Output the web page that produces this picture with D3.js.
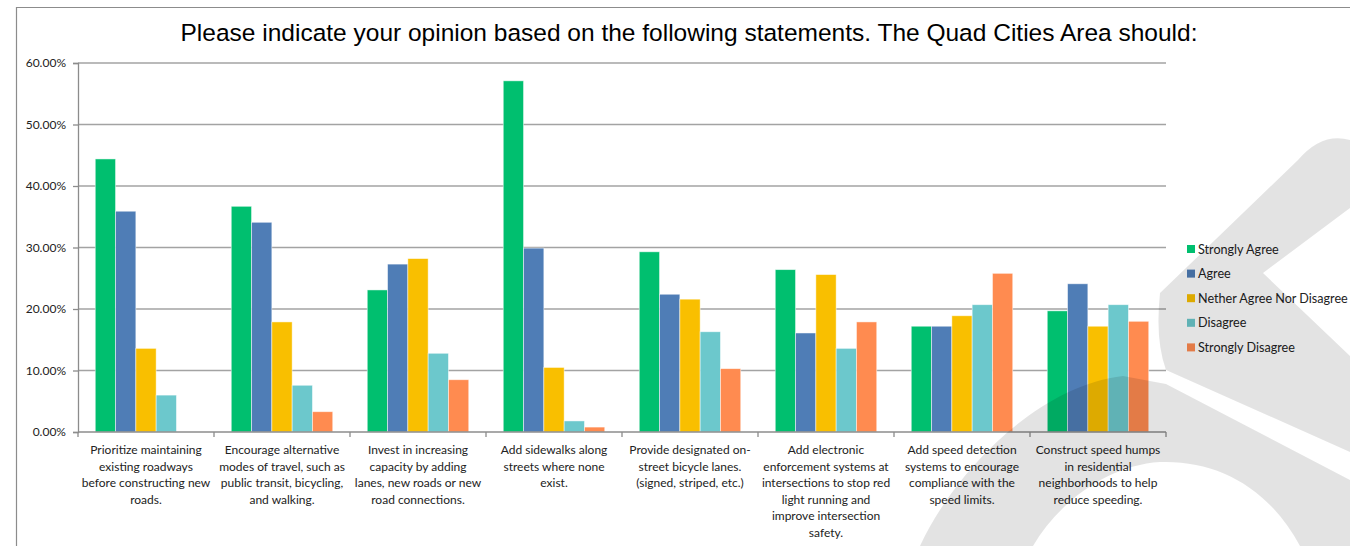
<!DOCTYPE html>
<html>
<head>
<meta charset="utf-8">
<script src="https://cdn.jsdelivr.net/npm/d3@7"></script>
<style>
  body { margin: 0; background: #fff; }
  svg { display: block; }
</style>
</head>
<body>
<div id="chart"></div>
<script>
var width = 1350;
var height = 546;

var titleText = "Please indicate your opinion based on the following statements. The Quad Cities Area should:";

var categories = [
    ["Prioritize maintaining", "existing roadways", "before constructing new", "roads."],
    ["Encourage alternative", "modes of travel, such as", "public transit, bicycling,", "and walking."],
    ["Invest in increasing", "capacity by adding", "lanes, new roads or new", "road connections."],
    ["Add sidewalks along", "streets where none", "exist."],
    ["Provide designated on-", "street bicycle lanes.", "(signed, striped, etc.)"],
    ["Add electronic", "enforcement systems at", "intersections to stop red", "light running and", "improve intersection", "safety."],
    ["Add speed detection", "systems to  encourage", "compliance with the", "speed limits."],
    ["Construct speed humps", "in residential", "neighborhoods to help", "reduce speeding."]
];

var seriesNames = ["Strongly Agree", "Agree", "Nether Agree Nor Disagree", "Disagree", "Strongly Disagree"];
var seriesColors = ["#00BF6F", "#4F7DB6", "#F9BF00", "#6CC8CC", "#FF8B50"];

var stronglyAgree    = [44.4, 36.7, 23.1, 57.1, 29.3, 26.4, 17.2, 19.7];
var agree            = [35.9, 34.1, 27.3, 29.9, 22.4, 16.1, 17.2, 24.1];
var neither          = [13.6, 17.9, 28.2, 10.5, 21.6, 25.6, 18.9, 17.2];
var disagree         = [6.0, 7.6, 12.8, 1.8, 16.3, 13.6, 20.7, 20.7];
var stronglyDisagree = [0, 3.3, 8.5, 0.8, 10.3, 17.9, 25.8, 18.0];

var yTicks = [0, 10, 20, 30, 40, 50, 60];

var seriesValues = [stronglyAgree, agree, neither, disagree, stronglyDisagree];

var canvas = d3.select("#chart")
    .append("svg")
    .attr("width", width)
    .attr("height", height)

canvas.append("rect")
    .attr("width", width)
    .attr("height", height)
    .attr("fill", "white")

// outer frame (top and left edges visible)
canvas.append("path")
    .attr("d", "M16.5,546 L16.5,7.5 L1350,7.5")
    .attr("fill", "none")
    .style("stroke", "#8c8c8c")
    .style("stroke-width", "1.2px")

canvas.append("text")
    .attr("x", 689)
    .attr("y", 41)
    .attr("text-anchor", "middle")
    .style("font-family", "'Liberation Sans', Arial, sans-serif")
    .style("font-size", "24.5px")
    .attr("fill", "#000")
    .text(titleText)

var plotLeft = 78, plotRight = 1166, plotTop = 63, plotBottom = 432;

var keys = d3.range(categories.length);
var xScale = d3.scaleBand().domain(keys).range([plotLeft, plotRight]).padding(0)
var seriesScale = d3.scaleBand().domain(d3.range(seriesNames.length))
    .range([17.25, xScale.bandwidth() - 17.25]).padding(0)
var yScale = d3.scaleLinear().domain([0, 60]).range([plotBottom, plotTop])

// gridlines
canvas.selectAll(".grid")
    .data(yTicks.filter(function(d) { return d > 0; }))
    .enter().append("line")
    .attr("class", "grid")
    .attr("x1", plotLeft)
    .attr("x2", plotRight)
    .attr("y1", function(d) { return yScale(d); })
    .attr("y2", function(d) { return yScale(d); })
    .style("stroke", "#a3a3a3")
    .style("stroke-width", "1.3px")

// y axis
var yAxis = canvas.append("g")
    .attr("class", "yAxis")
    .attr("transform", "translate(" + plotLeft + ",0)")
    .call(d3.axisLeft(yScale).tickValues(yTicks).tickSize(5).tickPadding(7)
        .tickFormat(function(d) { return d.toFixed(2) + "%"; }))

yAxis.select(".domain").style("stroke", "#8c8c8c").style("stroke-width", "1.3px")
yAxis.selectAll(".tick line").style("stroke", "#8c8c8c").style("stroke-width", "1.3px")
yAxis.selectAll("text")
    .style("font-family", "Lato, 'Open Sans', sans-serif")
    .style("font-size", "12px")
    .attr("fill", "#222")

// bars
var groups = canvas.selectAll(".group")
    .data(keys)
    .enter().append("g")
    .attr("class", "group")
    .attr("transform", function(d) { return "translate(" + xScale(d) + ",0)"; })

groups.selectAll("rect")
    .data(function(c) {
        return seriesValues.map(function(vals, s) { return { s: s, v: vals[c] }; });
    })
    .enter().append("rect")
    .attr("x", function(d) { return seriesScale(d.s); })
    .attr("width", seriesScale.bandwidth())
    .attr("y", function(d) { return yScale(d.v); })
    .attr("height", function(d) { return plotBottom - yScale(d.v); })
    .attr("fill", function(d) { return seriesColors[d.s]; })
    .style("stroke", function(d) { return d.v > 0 ? "rgba(255,255,255,0.6)" : "none"; })
    .style("stroke-width", "0.8px")

// x axis
var xAxis = canvas.append("g")
    .attr("class", "xAxis")
    .attr("transform", "translate(0," + plotBottom + ")")

xAxis.append("line")
    .attr("x1", plotLeft).attr("x2", plotRight)
    .style("stroke", "#8c8c8c").style("stroke-width", "1.3px")

xAxis.selectAll(".xtick")
    .data(keys.concat([categories.length]))
    .enter().append("line")
    .attr("class", "xtick")
    .attr("x1", function(d) { return d < categories.length ? xScale(d) : plotRight; })
    .attr("x2", function(d) { return d < categories.length ? xScale(d) : plotRight; })
    .attr("y1", 0).attr("y2", 5)
    .style("stroke", "#8c8c8c").style("stroke-width", "1.3px")

var labels = xAxis.selectAll(".xlabel")
    .data(keys)
    .enter().append("text")
    .attr("class", "xlabel")
    .attr("text-anchor", "middle")
    .attr("transform", function(d) { return "translate(" + (xScale(d) + xScale.bandwidth() / 2) + ",22)"; })
    .style("font-family", "Lato, 'Open Sans', sans-serif")
    .style("font-size", "12px")
    .attr("fill", "#222")

labels.selectAll("tspan")
    .data(function(d) { return categories[d]; })
    .enter().append("tspan")
    .attr("x", 0)
    .attr("y", function(d, i) { return i * 16.6; })
    .text(function(d) { return d; })

// legend
var legend = canvas.selectAll(".legendItem")
    .data(seriesNames)
    .enter().append("g")
    .attr("class", "legendItem")
    .attr("transform", function(d, i) { return "translate(1187," + (249 + i * 24.6) + ")"; })

legend.append("rect")
    .attr("x", 0).attr("y", -4)
    .attr("width", 8).attr("height", 8)
    .attr("fill", function(d, i) { return seriesColors[i]; })

legend.append("text")
    .attr("x", 11)
    .attr("y", 4.5)
    .style("font-family", "Lato, 'Open Sans', sans-serif")
    .style("font-size", "12.6px")
    .attr("fill", "#222")
    .text(function(d) { return d; })

// watermark overlay (light grey logo laid over the whole picture)
var mark = canvas.append("g").attr("class", "watermark").style("pointer-events", "none")
mark.append("path")
    .attr("d", "M1166,370 L1350,452 L1350,356 L1263,273 L1350,208 L1350,140 Q1322,132 1298,160 L1160,293 Q1155,340 1166,370 Z")
    .attr("fill", "#000").attr("opacity", 0.11)
mark.append("path")
    .attr("d", "M920,546 C955,470 1040,385 1123,376 L1166,384 L1350,480 L1350,546 L1300,546 C1270,490 1220,460 1160,462 C1110,465 1060,500 1033,546 Z")
    .attr("fill", "#000").attr("opacity", 0.11)
</script>
</body>
</html>
